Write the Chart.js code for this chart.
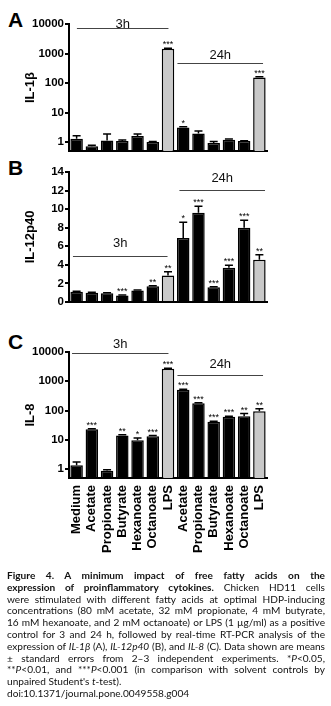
<!DOCTYPE html>
<html>
<head>
<meta charset="utf-8">
<script src="https://cdn.jsdelivr.net/npm/chart.js@4.4.0/dist/chart.umd.min.js"></script>
<style>
body { margin:0; background:#fff; width:331px; height:706px; position:relative; overflow:hidden; font-family:'Liberation Sans', Arial, sans-serif; }
canvas { position:absolute; left:0; }
.letter { position:absolute; left:8px; font-weight:bold; font-size:21px; line-height:1; color:#000; }
#caption { position:absolute; left:7px; top:570px; width:318px; font-family:Lato, sans-serif; font-size:10.1px; line-height:11.8px; color:#111; }
#caption div { white-space:nowrap; text-align:justify; text-align-last:justify; }
#caption div.last { text-align-last:left; }
</style>
</head>
<body>
<div class="letter" style="top:9px">A</div>
<div class="letter" style="top:157px">B</div>
<div class="letter" style="top:331px">C</div>
<canvas id="chartA" width="331" height="160" style="top:0px"></canvas>
<canvas id="chartB" width="331" height="160" style="top:150px"></canvas>
<canvas id="chartC" width="331" height="252" style="top:310px"></canvas>
<div id="caption">
  <div><b>Figure 4. A minimum impact of free fatty acids on the</b></div>
  <div><b>expression of proinflammatory cytokines.</b> Chicken HD11 cells</div>
  <div>were stimulated with different fatty acids at optimal HDP-inducing</div>
  <div>concentrations (80 mM acetate, 32 mM propionate, 4 mM butyrate,</div>
  <div>16 mM hexanoate, and 2 mM octanoate) or LPS (1 µg/ml) as a positive</div>
  <div>control for 3 and 24 h, followed by real-time RT-PCR analysis of the</div>
  <div>expression of <i>IL-1β</i> (A), <i>IL-12p40</i> (B), and <i>IL-8</i> (C). Data shown are means</div>
  <div>± standard errors from 2–3 independent experiments. *<i>P</i>&lt;0.05,</div>
  <div>**<i>P</i>&lt;0.01, and ***<i>P</i>&lt;0.001 (in comparison with solvent controls by</div>
  <div class="last">unpaired Student's <i>t</i>-test).</div>
  <div class="last">doi:10.1371/journal.pone.0049558.g004</div>
</div>
<script>
const categories = ['Medium','Acetate','Propionate','Butyrate','Hexanoate','Octanoate','LPS','Acetate','Propionate','Butyrate','Hexanoate','Octanoate','LPS']

// IL-1b (panel A), log scale
const il1b = [1.3, 0.72, 1.14, 1.08, 1.6, 1.0, 1440, 3.1, 1.95, 0.93, 1.2, 1.08, 155]
const il1bErr = [1.63, 0.79, 1.89, 1.19, 1.89, 1.05, 1520, 3.3, 2.4, 1.05, 1.27, 1.12, 165]
const il1bSig = ['','','','','','','***','*','','','','','***']

// IL-12p40 (panel B), linear
const il12 = [1.1, 1.0, 0.95, 0.7, 1.25, 1.7, 2.85, 6.9, 9.6, 1.6, 3.7, 8.0, 4.55]
const il12Err = [1.15, 1.05, 1.0, 0.75, 1.3, 1.75, 3.25, 8.6, 10.3, 1.65, 3.95, 8.8, 5.1]
const il12Sig = ['','','','***','','**','**','*','***','***','***','***','**']

// IL-8 (panel C), log scale
const il8 = [1.35, 23, 0.88, 14, 9.8, 13.4, 2690, 515, 177, 41.5, 61.5, 64.5, 95]
const il8Err = [1.75, 24, 0.95, 15, 11.7, 14, 2800, 530, 185, 43, 64, 79, 115]
const il8Sig = ['','***','','**','*','***','***','***','***','***','***','**','**']

const logTicks = [1, 10, 100, 1000, 10000]
const linTicks = [0, 2, 4, 6, 8, 10, 12, 14]

const FONT = "'Liberation Sans', Arial, sans-serif"

// error bars + stars, drawn from the y scale
const errPlugin = {
    id: 'errbars',
    afterDatasetsDraw(chart, args, opts) {
        const ctx = chart.ctx
        const y = chart.scales.y
        const meta = chart.getDatasetMeta(0)
        ctx.save()
        ctx.strokeStyle = '#000'
        ctx.lineWidth = 1.5
        meta.data.forEach((bar, i) => {
            const top = y.getPixelForValue(opts.err[i])
            ctx.beginPath()
            ctx.moveTo(bar.x, bar.y)
            ctx.lineTo(bar.x, top)
            ctx.moveTo(bar.x - 4, top)
            ctx.lineTo(bar.x + 4, top)
            ctx.stroke()
            if (opts.sig[i]) {
                ctx.fillStyle = '#000'
                ctx.font = '9px ' + FONT
                ctx.textAlign = 'center'
                ctx.textBaseline = 'alphabetic'
                ctx.fillText(opts.sig[i], bar.x, top - 1)
            }
        })
        // 3h / 24h group lines
        const x = chart.scales.x
        opts.groups.forEach(g => {
            const py = Math.round(y.getPixelForValue(g.y)) + 0.5
            const x0 = x.getPixelForValue(g.from), x1 = x.getPixelForValue(g.to)
            ctx.strokeStyle = '#444'
            ctx.lineWidth = 1
            ctx.beginPath()
            ctx.moveTo(x0, py)
            ctx.lineTo(x1, py)
            ctx.stroke()
            ctx.fillStyle = '#111'
            ctx.font = '13px ' + FONT
            ctx.textAlign = 'center'
            ctx.textBaseline = 'alphabetic'
            ctx.fillText(g.label, (x0 + x1) / 2, py - g.gap)
        })
        ctx.restore()
    }
}

function makeChart(id, values, err, sig, opts) {
    return new Chart(id, {
        type: 'bar',
        data: {
            labels: categories,
            datasets: [{
                data: values,
                backgroundColor: categories.map(c => c == 'LPS' ? '#c9c9c9' : '#000'),
                borderColor: '#000',
                borderWidth: 1.5,
                borderSkipped: 'bottom',
                barPercentage: 0.82,
                categoryPercentage: 1
            }]
        },
        options: {
            responsive: false,
            animation: false,
            events: [],
            layout: { padding: { top: opts.padTop, left: 19, right: 64, bottom: 0 } },
            plugins: {
                legend: { display: false },
                tooltip: { enabled: false },
                errbars: { err: err, sig: sig, groups: opts.groups }
            },
            scales: {
                x: {
                    grid: { display: false, drawTicks: false },
                    border: { display: true, color: '#000', width: 2 },
                    ticks: {
                        display: opts.showLabels,
                        autoSkip: false,
                        maxRotation: 90,
                        minRotation: 90,
                        padding: 7,
                        color: '#000',
                        font: { family: FONT, size: 13, weight: 'bold' }
                    },
                    afterFit: s => { s.height = opts.xHeight }
                },
                y: {
                    type: opts.type,
                    min: opts.min,
                    max: opts.max,
                    grid: { drawOnChartArea: false, drawTicks: true, tickLength: 4, color: '#000', lineWidth: 2 },
                    border: { display: true, color: '#000', width: 2 },
                    ticks: {
                        padding: 1,
                        color: '#000',
                        font: { family: FONT, size: 11.5, weight: 'bold' },
                        callback: v => String(v)
                    },
                    afterBuildTicks: s => { s.ticks = opts.ticks.map(v => ({ value: v })) },
                    title: {
                        display: true,
                        text: opts.title,
                        color: '#000',
                        font: { family: FONT, size: 13, weight: 'bold' }
                    },
                    afterFit: s => { s.width = 50 }
                }
            }
        },
        plugins: [errPlugin]
    })
}

makeChart('chartA', il1b, il1bErr, il1bSig, {
    type: 'logarithmic', min: 0.5, max: 10000, ticks: logTicks, title: 'IL-1β',
    padTop: 24, xHeight: 9, showLabels: false,
    groups: [
        { label: '3h', from: 0.02, to: 6.03, y: 7300, gap: 1 },
        { label: '24h', from: 6.62, to: 12.24, y: 495, gap: 5 }
    ]
})

makeChart('chartB', il12, il12Err, il12Sig, {
    type: 'linear', min: 0, max: 14, ticks: linTicks, title: 'IL-12p40',
    padTop: 22, xHeight: 8, showLabels: false,
    groups: [
        { label: '3h', from: -0.24, to: 5.97, y: 4.95, gap: 10 },
        { label: '24h', from: 6.75, to: 12.37, y: 12.1, gap: 9 }
    ]
})

makeChart('chartC', il8, il8Err, il8Sig, {
    type: 'logarithmic', min: 0.5, max: 10000, ticks: logTicks, title: 'IL-8',
    padTop: 42, xHeight: 84, showLabels: true,
    groups: [
        { label: '3h', from: -0.3, to: 6.03, y: 9200, gap: 6 },
        { label: '24h', from: 6.62, to: 12.24, y: 1600, gap: 8 }
    ]
})
</script>
</body>
</html>
